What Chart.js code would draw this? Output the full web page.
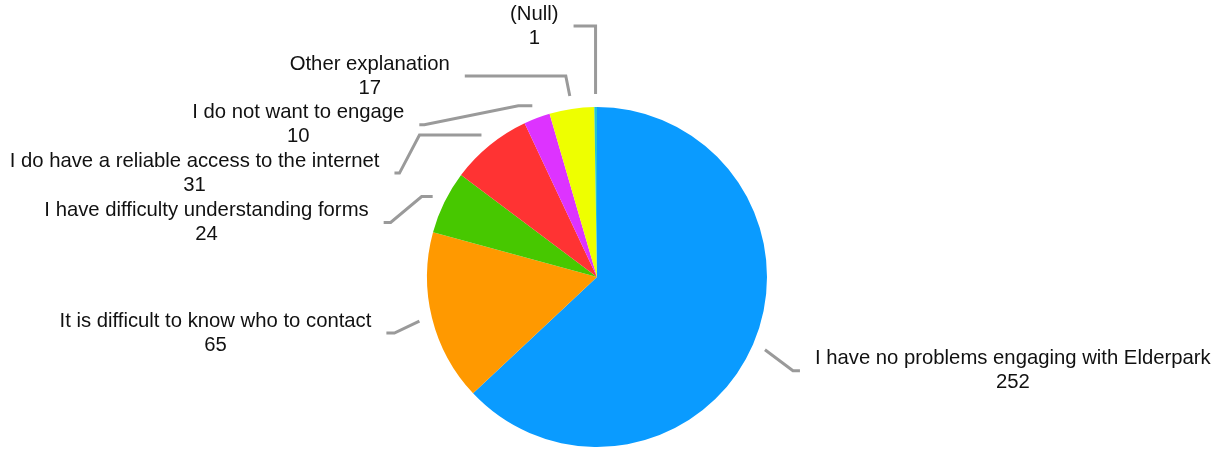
<!DOCTYPE html>
<html lang="en">
<head>
  <meta charset="UTF-8" />
  <title>Engagement problems</title>
  <script src="https://cdn.jsdelivr.net/npm/chart.js"></script>
  <style>
    html, body { margin: 0; padding: 0; background: #fff; }
    #wrap { width: 1223px; height: 452px; }
  </style>
</head>
<body>
  <div id="wrap"><canvas id="pie" width="1223" height="452"></canvas></div>
  <script>
    const categories = [
      'I have no problems engaging with Elderpark',
      'It is difficult to know who to contact',
      'I have difficulty understanding forms',
      'I do have a reliable access to the internet',
      'I do not want to engage',
      'Other explanation',
      '(Null)'
    ];
    const counts = [252, 65, 24, 31, 10, 17, 1];
    const sliceColors = ['#0a9bff', '#ff9900', '#47c800', '#ff3333', '#dd33ff', '#eeff00', '#22c4d4'];

    // callout leader bends, relative to a point just outside each slice
    const leaders = [
      { side: 1,  pts: [[28, 21], [35, 21]] },
      { side: -1, pts: [[-25, 12], [-33, 12]] },
      { side: -1, pts: [[-11, 0], [-42, 26], [-49, 26]] },
      { side: -1, pts: [[-62, 0], [-82, 38], [-87, 38]] },
      { side: -1, pts: [[-14, 0], [-108, 19], [-113, 19]] },
      { side: -1, pts: [[-4, -20], [-105, -20]] },
      { side: -1, pts: [[0, -68], [-22, -68]] }
    ];

    const callouts = {
      id: 'callouts',
      afterDatasetsDraw(chart) {
        const ctx = chart.ctx;
        const arcs = chart.getDatasetMeta(0).data;
        ctx.save();
        ctx.font = '20.3px "Liberation Sans", Arial, sans-serif';
        ctx.textBaseline = 'middle';
        ctx.textAlign = 'center';
        arcs.forEach((arc, i) => {
          const mid = (arc.startAngle + arc.endAngle) / 2;
          const r = arc.outerRadius + 13;
          const sx = arc.x + Math.cos(mid) * r;
          const sy = arc.y + Math.sin(mid) * r;
          const lead = leaders[i];

          ctx.strokeStyle = '#9a9a9a';
          ctx.lineWidth = 3;
          ctx.lineJoin = 'miter';
          ctx.beginPath();
          ctx.moveTo(sx, sy);
          lead.pts.forEach(p => ctx.lineTo(sx + p[0], sy + p[1]));
          ctx.stroke();

          const last = lead.pts[lead.pts.length - 1];
          const ex = sx + last[0];
          const ey = sy + last[1];
          const label = categories[i];
          const value = String(counts[i]);
          const w = Math.max(ctx.measureText(label).width, ctx.measureText(value).width);
          const cx = ex + lead.side * (15 + w / 2);

          ctx.fillStyle = '#111';
          ctx.fillText(label, cx, ey - 12);
          ctx.fillText(value, cx, ey + 12);
        });
        ctx.restore();
      }
    };

    new Chart(document.getElementById('pie'), {
      type: 'pie',
      data: {
        labels: categories,
        datasets: [{
          data: counts,
          backgroundColor: sliceColors,
          borderWidth: 0
        }]
      },
      options: {
        responsive: false,
        animation: false,
        layout: { padding: { left: 427, right: 456, top: 107, bottom: 5 } },
        plugins: {
          legend: { display: false },
          tooltip: { enabled: false }
        }
      },
      plugins: [callouts]
    });
  </script>
</body>
</html>
